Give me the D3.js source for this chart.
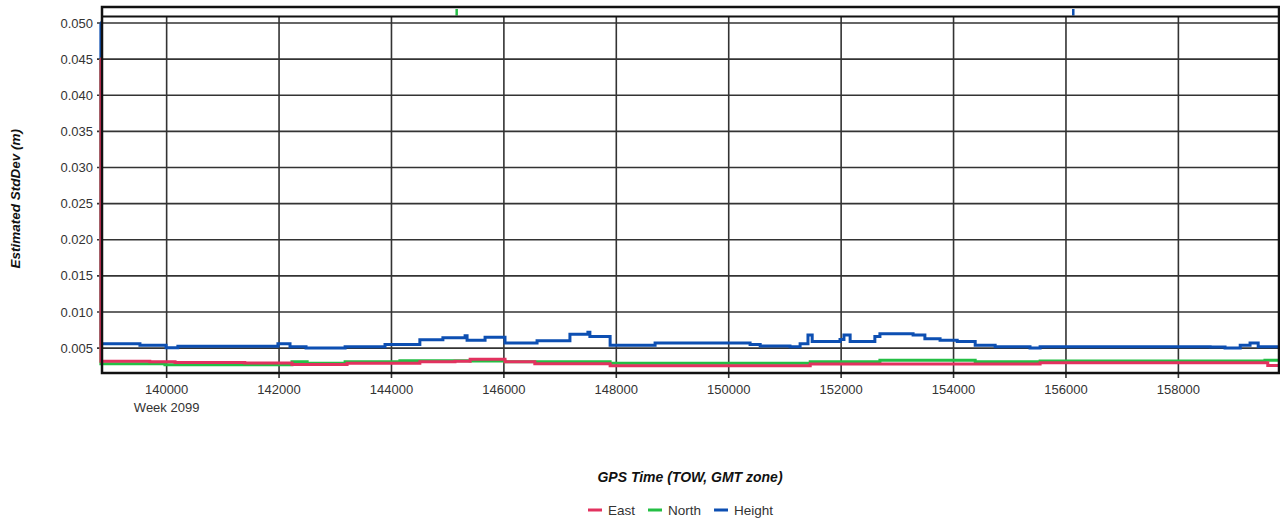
<!DOCTYPE html>
<html>
<head>
<meta charset="utf-8">
<script src="https://cdn.jsdelivr.net/npm/d3@7/dist/d3.min.js"></script>
<style>
    body { margin: 0; background: #fff; }
    text { font-family: Arial, "Liberation Sans", sans-serif; fill: #333; }
    .grid { stroke: #333; stroke-width: 1.6; }
    .series { fill: none; stroke-width: 3; }
    .axis-title { font-weight: bold; font-style: italic; font-size: 13.5px; fill: #111; }
</style>
</head>
<body>
<div id="chart"></div>
<script>
// values (TOW seconds, metres)
const heightData = [
    [138815, 0.0500], [138830, 0.00559], [139525, 0.00538], [139990, 0.00503], [140200, 0.00524],
    [141980, 0.00560], [142195, 0.00520], [142480, 0.00500], [143175, 0.00520], [143885, 0.00550],
    [144505, 0.00614], [144915, 0.00644], [145310, 0.00670], [145345, 0.00608], [145665, 0.00650],
    [146020, 0.00570], [146590, 0.00600], [147175, 0.00690], [147495, 0.00720], [147530, 0.00660],
    [147890, 0.00540], [148690, 0.00572], [150380, 0.00550], [150560, 0.00530], [151090, 0.00520],
    [151270, 0.00560], [151410, 0.00680], [151485, 0.00590], [151980, 0.00620], [152050, 0.00680],
    [152160, 0.00590], [152600, 0.00660], [152690, 0.00700], [153280, 0.00680], [153490, 0.00630],
    [153760, 0.00610], [154065, 0.00590], [154385, 0.00540], [154740, 0.00520], [155360, 0.00500],
    [155540, 0.00520], [158565, 0.00515], [158830, 0.00500], [159100, 0.00540], [159275, 0.00570],
    [159420, 0.00520], [159790, 0.00520]
]
const eastData = [
    [138815, 0.0450], [138830, 0.00316], [139700, 0.00310], [140150, 0.00300], [141390, 0.00295],
    [142230, 0.00274], [143210, 0.00290], [144505, 0.00310], [145130, 0.00318], [145400, 0.00344],
    [146020, 0.00310], [146550, 0.00284], [147890, 0.00256], [151450, 0.00280], [155540, 0.00298],
    [159590, 0.00260], [159790, 0.00260]
]
const northData = [
    [138815, 0.0450], [138830, 0.00284], [139970, 0.00270], [142230, 0.00310], [142500, 0.00290],
    [143175, 0.00310], [144150, 0.00325], [145400, 0.00320], [146020, 0.00310], [147890, 0.00290],
    [151450, 0.00310], [152690, 0.00330], [154385, 0.00310], [155540, 0.00320], [159540, 0.00330],
    [159790, 0.00330]
]
// off-scale points shown as marks in the top strip
const offScale = [
    { name: 'North', t: 145160 },
    { name: 'Height', t: 156130 }
]

const seriesNames = ['East', 'North', 'Height']
const seriesColors = { East: '#e2325f', North: '#24bf45', Height: '#0d4fb2' }
const drawOrder = [['Height', heightData], ['North', northData], ['East', eastData]]

const xTicks = [140000, 142000, 144000, 146000, 148000, 150000, 152000, 154000, 156000, 158000]
const yTicks = [0.005, 0.010, 0.015, 0.020, 0.025, 0.030, 0.035, 0.040, 0.045, 0.050]
const weekLabel = 'Week 2099'
const xTitle = 'GPS Time (TOW, GMT zone)'
const yTitle = 'Estimated StdDev (m)'

const width = 1280
const height = 523
const plot = { left: 102, right: 1279, top: 7, strip: 16.5, bottom: 373 }

const svg = d3.select('#chart').append('svg')
    .attr('width', width)
    .attr('height', height)

const xScale = d3.scaleLinear()
    .domain([138850, 159790])
    .range([plot.left, plot.right])

const yScale = d3.scaleLinear()
    .domain([0.00155, 0.0509])
    .range([plot.bottom, plot.strip])

// grid + ticks
svg.append('g').selectAll('line')
    .data(yTicks)
    .enter().append('line')
    .attr('class', 'grid')
    .attr('x1', plot.left - 5)
    .attr('x2', plot.right)
    .attr('y1', d => yScale(d))
    .attr('y2', d => yScale(d))

svg.append('g').selectAll('line')
    .data(xTicks)
    .enter().append('line')
    .attr('class', 'grid')
    .attr('x1', d => xScale(d))
    .attr('x2', d => xScale(d))
    .attr('y1', plot.strip)
    .attr('y2', plot.bottom + 5)

svg.append('g').selectAll('text')
    .data(yTicks)
    .enter().append('text')
    .attr('x', plot.left - 9)
    .attr('y', d => yScale(d))
    .attr('dy', '0.35em')
    .attr('text-anchor', 'end')
    .style('font-size', '13px')
    .text(d => d3.format('.3f')(d))

svg.append('g').selectAll('text')
    .data(xTicks)
    .enter().append('text')
    .attr('x', d => xScale(d))
    .attr('y', plot.bottom + 21)
    .attr('text-anchor', 'middle')
    .style('font-size', '13px')
    .text(d => d)

svg.append('text')
    .attr('x', xScale(xTicks[0]))
    .attr('y', plot.bottom + 39)
    .attr('text-anchor', 'middle')
    .style('font-size', '13px')
    .text(weekLabel)

// series
const line = d3.line()
    .x(d => xScale(d[0]))
    .y(d => yScale(d[1]))
    .curve(d3.curveStepAfter)

drawOrder.forEach(([name, data]) => {
    svg.append('path')
        .attr('class', 'series')
        .attr('stroke', seriesColors[name])
        .attr('d', line(data))
})

svg.append('g').selectAll('line')
    .data(offScale)
    .enter().append('line')
    .attr('x1', d => xScale(d.t))
    .attr('x2', d => xScale(d.t))
    .attr('y1', plot.top + 2)
    .attr('y2', plot.strip - 1)
    .attr('stroke', d => seriesColors[d.name])
    .attr('stroke-width', 2.5)

// frame
svg.append('line')
    .attr('x1', plot.left)
    .attr('x2', plot.right)
    .attr('y1', plot.strip)
    .attr('y2', plot.strip)
    .attr('stroke', '#111')
    .attr('stroke-width', 2)

svg.append('rect')
    .attr('x', plot.left)
    .attr('y', plot.top)
    .attr('width', plot.right - plot.left)
    .attr('height', plot.bottom - plot.top)
    .attr('fill', 'none')
    .attr('stroke', '#111')
    .attr('stroke-width', 2.5)

// titles
svg.append('text')
    .attr('class', 'axis-title')
    .attr('transform', `translate(20, ${(plot.strip + plot.bottom) / 2 + 4}) rotate(-90)`)
    .attr('text-anchor', 'middle')
    .text(yTitle)

svg.append('text')
    .attr('class', 'axis-title')
    .attr('x', 690)
    .attr('y', 482)
    .attr('text-anchor', 'middle')
    .style('font-size', '14px')
    .text(xTitle)

// legend
const legend = svg.append('g')
    .attr('transform', 'translate(588, 510)')

let offset = 0
seriesNames.forEach(name => {
    const item = legend.append('g')
        .attr('transform', `translate(${offset}, 0)`)
    item.append('line')
        .attr('x1', 0)
        .attr('x2', 14)
        .attr('stroke', seriesColors[name])
        .attr('stroke-width', 3)
    const label = item.append('text')
        .attr('x', 20)
        .attr('dy', '0.35em')
        .style('font-size', '13.5px')
        .text(name)
    offset += 20 + label.node().getComputedTextLength() + 13
})
</script>
</body>
</html>
